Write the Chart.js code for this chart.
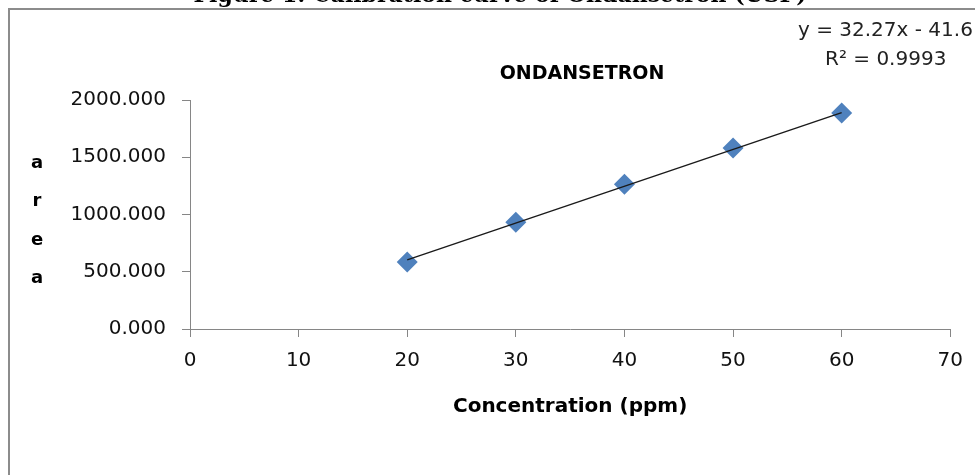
<!DOCTYPE html>
<html>
<head>
<meta charset="utf-8">
<title>Calibration curve of Ondansetron</title>
<script src="https://cdn.jsdelivr.net/npm/chart.js@4"></script>
<style>
    html, body { margin: 0; padding: 0; background: #fff; overflow: hidden; }
    #wrap { position: relative; width: 975px; height: 475px; }
    #frame {
        position: absolute; left: 8px; top: 8px; width: 990px; height: 490px;
        border-left: 2px solid #8c8c8c; border-top: 2px solid #8c8c8c;
    }
    canvas { position: absolute; left: 0; top: 0; }
</style>
</head>
<body>
<div id="wrap">
    <div id="frame"></div>
    <canvas id="calChart" width="975" height="475"></canvas>
</div>
<script>
// data
const concentrations = [20, 30, 40, 50, 60];
const areas = [585, 932, 1265, 1580, 1887];
const trendX = [20, 60];
const trendY = [603, 1890];
const xTicks = [0, 10, 20, 30, 40, 50, 60, 70];
const yTicks = [0, 500, 1000, 1500, 2000];

const figureCaption = 'Figure 1: Calibration curve of Ondansetron (USP)';
const chartTitle = 'ONDANSETRON';
const equationText = 'y = 32.27x - 41.6';
const rSquaredText = 'R² = 0.9993';
const yAxisLetters = ['a', 'r', 'e', 'a'];

const axisGrey = '#868686';

// Texts that sit outside the normal Chart.js layout
const extraText = {
    id: 'extraText',
    afterDraw(chart) {
        const ctx = chart.ctx;
        ctx.save();
        ctx.fillStyle = '#000';
        ctx.textBaseline = 'alphabetic';

        // caption, mostly cut off at the top of the picture
        ctx.textAlign = 'center';
        ctx.font = 'bold 22px "DejaVu Serif"';
        ctx.fillText(figureCaption, 500, 1.5);

        ctx.font = 'bold 19px "DejaVu Sans"';
        ctx.textBaseline = 'middle';
        ctx.fillText(chartTitle, 582, 74);

        // stacked y axis title
        ctx.font = 'bold 18px "DejaVu Sans"';
        ctx.textBaseline = 'alphabetic';
        yAxisLetters.forEach((ch, i) => {
            ctx.fillText(ch, 37, 168 + i * 38.3);
        });

        // trendline label
        ctx.textAlign = 'left';
        ctx.textBaseline = 'middle';
        ctx.font = '20px "DejaVu Sans"';
        ctx.fillStyle = '#222';
        ctx.fillText(equationText, 798, 31);
        ctx.fillText(rSquaredText, 825, 60);
        ctx.restore();
    }
};

const ctx = document.getElementById('calChart').getContext('2d');

new Chart(ctx, {
    type: 'scatter',
    data: {
        datasets: [
            {
                label: 'Linear',
                data: trendX.map((x, i) => ({ x: x, y: trendY[i] })),
                showLine: true,
                borderColor: '#1a1a1a',
                borderWidth: 1.4,
                pointRadius: 0
            },
            {
                label: 'Area',
                data: concentrations.map((x, i) => ({ x: x, y: areas[i] })),
                pointStyle: 'rectRot',
                pointRadius: 10.5,
                backgroundColor: '#4F81BD',
                borderColor: '#4F81BD',
                borderWidth: 0
            }
        ]
    },
    options: {
        responsive: false,
        animation: false,
        layout: { padding: { left: 0, right: 21, top: 100, bottom: 46 } },
        plugins: {
            legend: { display: false },
            tooltip: { enabled: false },
            title: { display: false }
        },
        scales: {
            x: {
                type: 'linear',
                min: 0,
                max: 70,
                afterBuildTicks: scale => { scale.ticks = xTicks.map(v => ({ value: v })); },
                afterFit: scale => { scale.height = 100; },
                grid: { drawOnChartArea: false, drawTicks: true, tickLength: 8, color: axisGrey },
                border: { color: axisGrey, width: 1 },
                ticks: {
                    color: '#111',
                    padding: 12,
                    font: { family: 'DejaVu Sans', size: 20 }
                },
                title: {
                    display: true,
                    text: 'Concentration (ppm)',
                    color: '#000',
                    font: { family: 'DejaVu Sans', size: 20, weight: 'bold' },
                    padding: { top: 0, bottom: 10 }
                }
            },
            y: {
                type: 'linear',
                min: 0,
                max: 2000,
                afterBuildTicks: scale => { scale.ticks = yTicks.map(v => ({ value: v })); },
                afterFit: scale => { scale.width = 190; },
                grid: { drawOnChartArea: false, drawTicks: true, tickLength: 8, color: axisGrey },
                border: { color: axisGrey, width: 1 },
                ticks: {
                    color: '#111',
                    padding: 16,
                    font: { family: 'DejaVu Sans', size: 20 },
                    callback: value => Number(value).toFixed(3)
                }
            }
        }
    },
    plugins: [extraText]
});
</script>
</body>
</html>
